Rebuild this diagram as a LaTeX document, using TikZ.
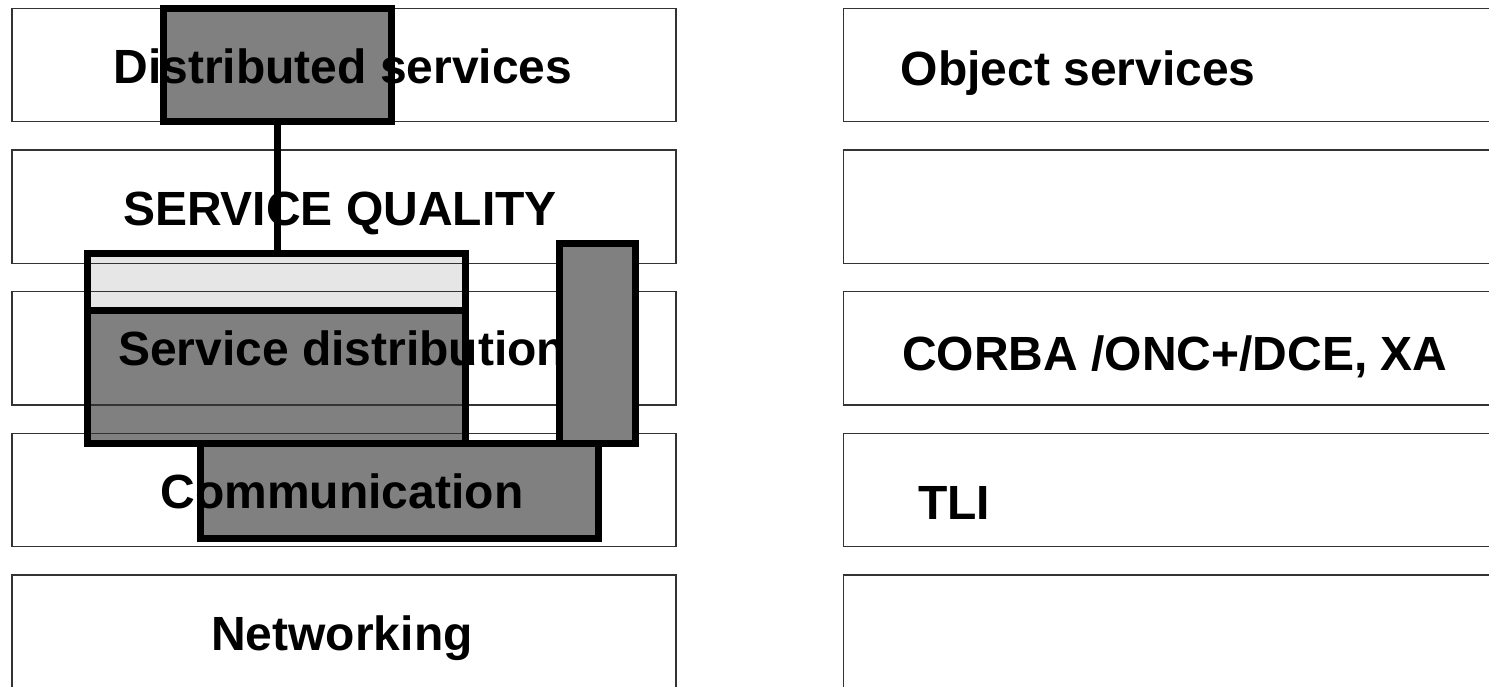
\documentclass[tikz,border=0pt]{standalone}
\usepackage{fontspec}
\setmainfont{Liberation Sans}
\definecolor{dgray}{HTML}{808080}
\definecolor{lgray}{HTML}{E6E6E6}
\tikzset{
  rowbox/.style={draw=black!80, line width=1.3pt, minimum width=664pt, minimum height=113.4pt, anchor=north west, inner sep=0pt, outer sep=0pt},
  rrowbox/.style={rowbox, minimum width=700pt},
  fillbox/.style={anchor=north west, inner sep=0pt, outer sep=0pt, draw=none},
  heavy/.style={line width=7pt, draw=black},
  lbl/.style={font=\fontsize{48}{58}\selectfont\bfseries, inner sep=0pt, anchor=base},
  lblw/.style={lbl, anchor=base west}
}
\begin{document}
\begin{tikzpicture}[x=1pt,y=-1pt]
  \useasboundingbox (0,0) rectangle (1489,686);
  \clip (0,0) rectangle (1489,686);
  % gray fills of overlay boxes
  \node[fillbox, fill=lgray, minimum width=378.5pt, minimum height=57pt] (sdtop) at (87,253.5) {};
  \node[fillbox, fill=dgray, minimum width=378.5pt, minimum height=132.5pt] (sdbot) at (87,310.5) {};
  \node[fillbox, fill=dgray, minimum width=228pt, minimum height=113pt] (dist) at (163.5,8.5) {};
  \node[fillbox, fill=dgray, minimum width=398pt, minimum height=95.5pt] (comm) at (200.5,443) {};
  % layer rows
  \node[rowbox] (L1) at (12,8.3) {};
  \node[rowbox] (L2) at (12,150) {};
  \node[rowbox] (L3) at (12,291.7) {};
  \node[rowbox] (L4) at (12,433.4) {};
  \node[rowbox] (L5) at (12,575.1) {};
  \node[rrowbox] (R1) at (843.5,8.3) {};
  \node[rrowbox] (R2) at (843.5,150) {};
  \node[rrowbox] (R3) at (843.5,291.7) {};
  \node[rrowbox] (R4) at (843.5,433.4) {};
  \node[rrowbox] (R5) at (843.5,575.1) {};
  % labels
  \node[lbl] (t1) at (343,83.5) {Distributed services};
  \node[lbl] (t2) at (340,225.5) {SERVICE QUALITY};
  \node[lblw] (t3) at (118,365.5) {Service distribution};
  \node[lbl] (t4) at (342,508.5) {Communication};
  \node[lbl] (t5) at (342,650.5) {Networking};
  \node[lblw] (t6) at (900.5,85) {Object services};
  \node[lblw] (t7) at (902,370) {CORBA /ONC+/DCE, XA};
  \node[lblw] (t8) at (918,519) {TLI};
  % heavy borders
  \draw[heavy] (dist.north west) rectangle (dist.south east);
  \draw[heavy] (sdtop.north west) rectangle (sdbot.south east);
  \draw[heavy] (sdtop.south west) -- (sdtop.south east);
  \draw[heavy] (comm.north west) rectangle (comm.south east);
  \draw[heavy] (dist.south) -- (dist.south |- sdtop.north);
  % narrow box on top
  \node[fillbox, fill=dgray, minimum width=76pt, minimum height=200pt] (narrow) at (559.5,243.5) {};
  \draw[heavy] (narrow.north west) rectangle (narrow.south east);
\end{tikzpicture}
\end{document}
